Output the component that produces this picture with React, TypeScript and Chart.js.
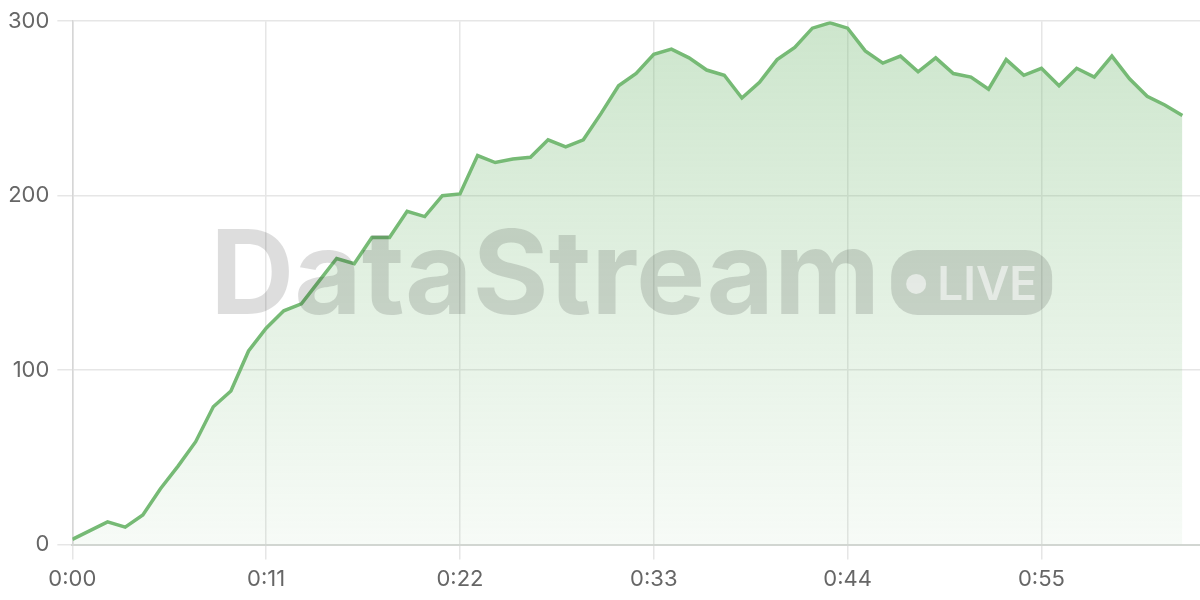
import React, { useEffect, useRef } from "react";
import { Chart, registerables } from "chart.js";

Chart.register(...registerables);

const seconds: number[] = [
  0, 1, 2, 3, 4, 5, 6, 7, 8, 9, 10, 11, 12, 13, 14, 15, 16, 17, 18, 19, 20, 21,
  22, 23, 24, 25, 26, 27, 28, 29, 30, 31, 32, 33, 34, 35, 36, 37, 38, 39, 40,
  41, 42, 43, 44, 45, 46, 47, 48, 49, 50, 51, 52, 53, 54, 55, 56, 57, 58, 59,
  60, 61, 62, 63,
];

const values: number[] = [
  3, 8, 13, 10, 17, 32, 45, 59, 79, 88, 111, 124, 134, 138, 151, 164, 161, 176,
  176, 191, 188, 200, 201, 223, 219, 221, 222, 232, 228, 232, 247, 263, 270,
  281, 284, 279, 272, 269, 256, 265, 278, 285, 296, 299, 296, 283, 276, 280,
  271, 279, 270, 268, 261, 278, 269, 273, 263, 273, 268, 280, 267, 257, 252,
  246,
];

const xTickValues: number[] = [0, 11, 22, 33, 44, 55];
const yTickValues: number[] = [0, 100, 200, 300];

const watermarkTitle = "DataStream";
const watermarkBadge = "LIVE";

const fmtTime = (s: number) => {
  const m = Math.floor(s / 60);
  const r = Math.round(s % 60);
  return `${m}:${r < 10 ? "0" + r : r}`;
};

const watermarkPlugin = {
  id: "watermark",
  afterDraw(chart: any) {
    const { ctx, chartArea } = chart;
    const cx = (chartArea.left + chartArea.right) / 2 - 5;
    const cy = (chartArea.top + chartArea.bottom) / 2;
    ctx.save();
    ctx.font = "bold 100px Inter";
    const w100 = ctx.measureText(watermarkTitle).width;
    const size = (100 * 670) / w100;
    ctx.font = `bold ${size}px Inter`;
    const titleW = ctx.measureText(watermarkTitle).width;
    const pillW = 161;
    const pillH = 65;
    const gap = 11;
    const total = titleW + gap + pillW;
    const startX = cx - total / 2;
    ctx.fillStyle = "rgba(0,0,0,0.135)";
    ctx.textBaseline = "alphabetic";
    ctx.textAlign = "left";
    ctx.fillText(watermarkTitle, startX, cy + 31);
    // pill
    const px = startX + titleW + gap;
    const py = cy - 33;
    const r = pillH / 2 - 6;
    ctx.beginPath();
    ctx.moveTo(px + r, py);
    ctx.lineTo(px + pillW - r, py);
    ctx.arcTo(px + pillW, py, px + pillW, py + r, r);
    ctx.lineTo(px + pillW, py + pillH - r);
    ctx.arcTo(px + pillW, py + pillH, px + pillW - r, py + pillH, r);
    ctx.lineTo(px + r, py + pillH);
    ctx.arcTo(px, py + pillH, px, py + pillH - r, r);
    ctx.lineTo(px, py + r);
    ctx.arcTo(px, py, px + r, py, r);
    ctx.closePath();
    ctx.fill();
    ctx.fillStyle = "rgba(255,255,255,0.55)";
    ctx.beginPath();
    ctx.arc(px + 25, cy + 1, 10, 0, Math.PI * 2);
    ctx.fill();
    ctx.font = "600 46px Inter";
    ctx.fillText(watermarkBadge, px + 46, cy + 17);
    ctx.restore();
  },
};

export default function App() {
  const canvasRef = useRef<HTMLCanvasElement | null>(null);

  useEffect(() => {
    if (!canvasRef.current) return;
    const ctx2d = canvasRef.current.getContext("2d")!;
    const chart = new Chart(ctx2d, {
      type: "line",
      data: {
        datasets: [
          {
            data: seconds.map((s, i) => ({ x: s, y: values[i] })),
            borderColor: "#76ba75",
            borderWidth: 3.5,
            pointRadius: 0,
            tension: 0,
            fill: "origin",
            backgroundColor: (c: any) => {
              const area = c.chart.chartArea;
              if (!area) return "rgba(116,185,115,0.2)";
              const g = c.chart.ctx.createLinearGradient(0, area.top, 0, area.bottom);
              g.addColorStop(0, "rgba(116,185,115,0.36)");
              g.addColorStop(1, "rgba(116,185,115,0.06)");
              return g;
            },
          },
        ],
      },
      options: {
        animation: false,
        responsive: true,
        maintainAspectRatio: false,
        layout: { padding: { left: 0, right: 0, top: 19, bottom: 0 } },
        plugins: {
          legend: { display: false },
          tooltip: { enabled: false },
        },
        scales: {
          x: {
            type: "linear",
            min: 0,
            max: 64,
            afterBuildTicks: (scale: any) => {
              scale.ticks = xTickValues.map((v) => ({ value: v }));
            },
            ticks: {
              includeBounds: false,
              autoSkip: false,
              maxRotation: 0,
              padding: 7,
              color: "#666",
              font: { family: "Inter", size: 22 },
              callback: (v: any) => fmtTime(Number(v)),
            },
            grid: {
              color: "#e6e6e6",
              lineWidth: 1.5,
              tickLength: 15,
            },
            border: { color: "#d2d6d2", width: 2 },
          },
          y: {
            min: 0,
            max: 300,
            afterBuildTicks: (scale: any) => {
              scale.ticks = yTickValues.map((v) => ({ value: v }));
            },
            ticks: {
              padding: 8,
              color: "#666",
              font: { family: "Inter", size: 22 },
            },
            grid: {
              color: "#e6e6e6",
              lineWidth: 1.5,
              tickLength: 15,
            },
            border: { color: "#d6d6d6", width: 1.5 },
          },
        },
      },
      plugins: [watermarkPlugin],
    } as any);
    return () => chart.destroy();
  }, []);

  return (
    <div
      style={{
        position: "fixed",
        left: 0,
        top: 0,
        width: 1200,
        height: 600,
        background: "#fff",
      }}
    >
      <canvas ref={canvasRef} />
    </div>
  );
}
